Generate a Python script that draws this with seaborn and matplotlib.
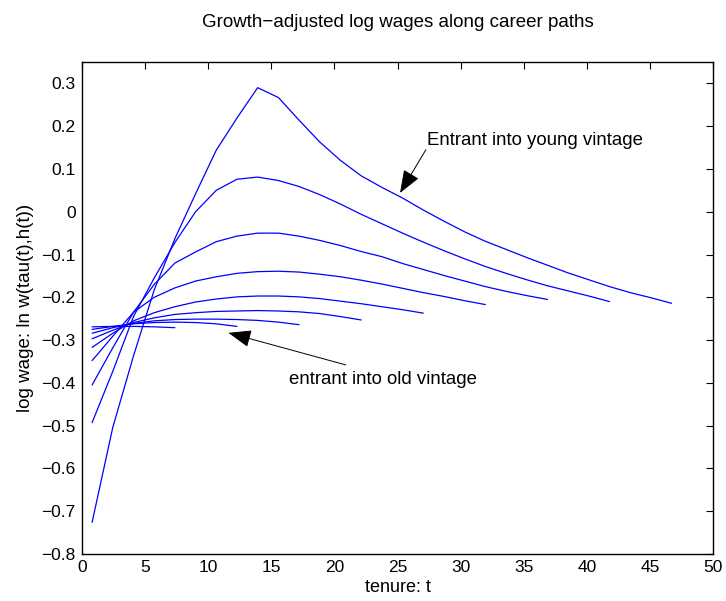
import numpy as np
import pandas as pd
import matplotlib
matplotlib.use("Agg")
import matplotlib.pyplot as plt
import seaborn as sns

# -----------------------------------
# DATA
# -----------------------------------
tenure = [0.80, 2.44, 4.08, 5.72, 7.36, 9.00, 10.64, 12.28, 13.92, 15.56,
          17.20, 18.84, 20.48, 22.12, 23.76, 25.40, 27.04, 28.68, 30.32,
          31.96, 33.60, 35.24, 36.88, 38.52, 40.16, 41.80, 43.44, 45.08, 46.72]

path1 = [-0.269, -0.268, -0.268, -0.269, -0.271]
path2 = [-0.275, -0.268, -0.262, -0.259, -0.258, -0.259, -0.262, -0.268]
path3 = [-0.284, -0.271, -0.261, -0.255, -0.252, -0.251, -0.251, -0.252,
         -0.254, -0.258, -0.264]
path4 = [-0.297, -0.277, -0.259, -0.248, -0.240, -0.236, -0.233, -0.232,
         -0.231, -0.232, -0.234, -0.238, -0.245, -0.253]
path5 = [-0.317, -0.284, -0.255, -0.236, -0.222, -0.211, -0.204, -0.199,
         -0.197, -0.197, -0.199, -0.203, -0.209, -0.215, -0.222, -0.229,
         -0.237]
path6 = [-0.348, -0.291, -0.235, -0.200, -0.178, -0.162, -0.152, -0.144,
         -0.140, -0.139, -0.141, -0.146, -0.152, -0.160, -0.169, -0.179,
         -0.189, -0.198, -0.208, -0.217]
path7 = [-0.405, -0.318, -0.235, -0.170, -0.120, -0.094, -0.070, -0.057,
         -0.050, -0.050, -0.057, -0.067, -0.079, -0.093, -0.105, -0.121,
         -0.135, -0.149, -0.162, -0.175, -0.186, -0.196, -0.205]
path8 = [-0.493, -0.373, -0.245, -0.155, -0.072, 0.000, 0.050, 0.076,
         0.081, 0.073, 0.059, 0.040, 0.018, -0.006, -0.028, -0.050,
         -0.071, -0.091, -0.110, -0.128, -0.144, -0.159, -0.173, -0.185,
         -0.197, -0.210]
path9 = [-0.726, -0.504, -0.337, -0.183, -0.063, 0.042, 0.144, 0.219,
         0.290, 0.267, 0.214, 0.163, 0.120, 0.084, 0.057, 0.032, 0.004,
         -0.022, -0.047, -0.069, -0.088, -0.107, -0.125, -0.143, -0.159,
         -0.175, -0.189, -0.201, -0.214]

paths = [path1, path2, path3, path4, path5, path6, path7, path8, path9]

x_ticks = [0, 5, 10, 15, 20, 25, 30, 35, 40, 45, 50]
y_ticks = [-0.8, -0.7, -0.6, -0.5, -0.4, -0.3, -0.2, -0.1, 0, 0.1, 0.2, 0.3]
y_tick_labels = ["\u22120.8", "\u22120.7", "\u22120.6", "\u22120.5", "\u22120.4",
                 "\u22120.3", "\u22120.2", "\u22120.1", "0", "0.1", "0.2", "0.3"]

# -----------------------------------
# LONG TABLE FOR SEABORN
# -----------------------------------
rows = []
for i, p in enumerate(paths):
    for t, w in zip(tenure, p):
        rows.append({"path": i + 1, "tenure": t, "wage": w})
df = pd.DataFrame(rows)

# -----------------------------------
# STYLE
# -----------------------------------
sns.set_style("white")
plt.rcParams["font.family"] = ["Liberation Sans", "DejaVu Sans"]
plt.rcParams["text.color"] = "black"
plt.rcParams["axes.labelcolor"] = "black"

fig = plt.figure(figsize=(7.26, 6.01), dpi=100)
ax = fig.add_axes([82 / 726, 47 / 601, 631 / 726, 492 / 601])

sns.lineplot(
    data=df,
    x="tenure",
    y="wage",
    units="path",
    estimator=None,
    sort=False,
    color="#0000ff",
    linewidth=0.9,
    ax=ax
)

ax.set_xlim(0, 50)
ax.set_ylim(-0.8, 0.35)
ax.set_xticks(x_ticks)
ax.set_yticks(y_ticks)
ax.set_yticklabels(y_tick_labels)

ax.tick_params(direction="in", length=5, width=0.8, top=True, right=True,
               labelsize=12.5, colors="black", pad=4.5)
for s in ax.spines.values():
    s.set_color("black")
    s.set_linewidth(1.0)

ax.set_title("Growth\u2212adjusted log wages along career paths", fontsize=13.5,
             pad=25, color="black")
ax.set_xlabel("tenure: t", fontsize=13, labelpad=3, color="black")
ax.set_ylabel("log wage: ln w(tau(t),h(t))", fontsize=13.5, labelpad=5, color="black")

# -----------------------------------
# ANNOTATIONS
# -----------------------------------
arrow = dict(arrowstyle="-|>,head_length=1.1,head_width=0.42", color="black",
             lw=0.7, shrinkA=0, shrinkB=0, mutation_scale=13)

ax.text(27.3, 0.167, "Entrant into young vintage", fontsize=13.4,
        ha="left", va="center", color="black")
ax.annotate("", xy=(25.2, 0.044), xytext=(27.25, 0.145), arrowprops=arrow)

ax.text(16.4, -0.393, "entrant into old vintage", fontsize=13.4,
        ha="left", va="center", color="black")
ax.annotate("", xy=(11.6, -0.283), xytext=(20.9, -0.358), arrowprops=arrow)

plt.savefig("out.png", dpi=100)
